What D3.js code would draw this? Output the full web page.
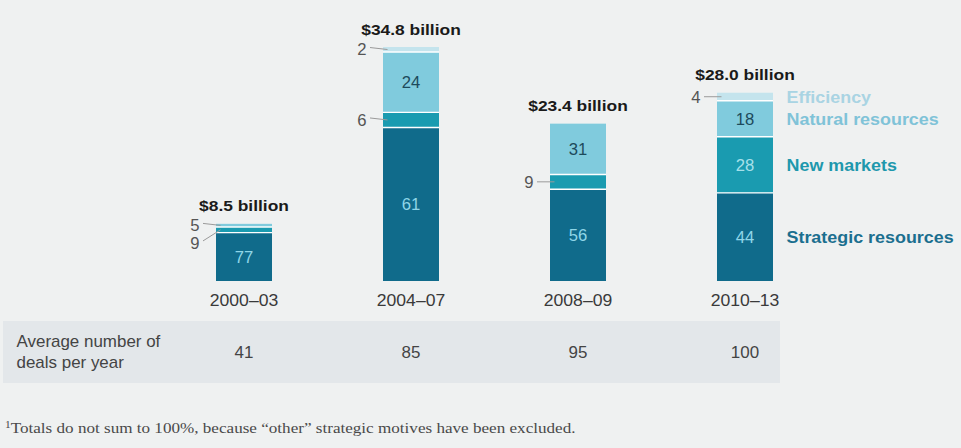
<!DOCTYPE html>
<html>
<head>
<meta charset="utf-8">
<script src="https://cdn.jsdelivr.net/npm/d3@7/dist/d3.min.js"></script>
<style>
  html, body { margin: 0; padding: 0; background: #eff1f1; }
  svg { display: block; font-family: "Liberation Sans", Arial, Helvetica, sans-serif; }
</style>
</head>
<body>
<script>
// Deal value by period, with the share of each strategic motive (%)
const periods    = ["2000–03", "2004–07", "2008–09", "2010–13"];
const totals     = [8.5, 34.8, 23.4, 28.0];          // $ billion
const strategic  = [77, 61, 56, 44];
const newMarkets = [9, 6, 9, 28];
const naturalRes = [5, 24, 31, 18];
const efficiency = [0, 2, 0, 4];
const deals      = [41, 85, 95, 100];                 // average deals per year
const motives    = ["Strategic resources", "New markets", "Natural resources", "Efficiency"];

const W = 961, H = 448;
const colors = {
  "Strategic resources": "#106b8b",
  "New markets": "#1a9bb0",
  "Natural resources": "#80cbdd",
  "Efficiency": "#c4e4ed"
};
const legendColors = {
  "Strategic resources": "#1b6f8f",
  "New markets": "#1e98ad",
  "Natural resources": "#80c3d8",
  "Efficiency": "#a9d4e3"
};
const insideText = {
  "Strategic resources": "#8fd6e8",
  "New markets": "#a6e0ea",
  "Natural resources": "#1d4a5b",
  "Efficiency": "#1d4a5b"
};

// Each bar is as tall as the period total; motive segments split it by share
const rows = periods.map((p, i) => {
  const pct = [strategic[i], newMarkets[i], naturalRes[i], efficiency[i]];
  const sum = d3.sum(pct);
  const r = { period: p, total: totals[i] };
  motives.forEach((m, k) => { r[m] = totals[i] * pct[k] / sum; r[m + "_pct"] = pct[k]; });
  return r;
});
const series = d3.stack().keys(motives)(rows);

const svg = d3.select("body").append("svg").attr("width", W).attr("height", H);
svg.append("rect").attr("width", W).attr("height", H).attr("fill", "#eff1f1");

const x = d3.scaleBand().domain(periods).range([165.9, 823.1])
  .paddingInner(0.6647).paddingOuter(0.3);
const y = d3.scaleLinear().domain([0, d3.max(totals)]).range([281, 47]);

// place text at (px,py) with a slight horizontal stretch
function stretch(sel, px, py, sx) {
  return sel.attr("x", 0).attr("y", 0)
    .attr("transform", `translate(${px},${py}) scale(${sx},1)`);
}

// Table row behind the deal counts
svg.append("rect").attr("x", 3).attr("y", 321).attr("width", 777).attr("height", 62)
  .attr("fill", "#e3e7ea");

// Stacked bars
const g = svg.append("g");
series.forEach(s => {
  g.selectAll(null).data(s.filter(d => d[1] - d[0] > 0)).join("rect")
    .attr("x", d => x(d.data.period))
    .attr("width", x.bandwidth())
    .attr("y", d => y(d[1]))
    .attr("height", d => y(d[0]) - y(d[1]))
    .attr("fill", colors[s.key]);
});
// white separators between segments
series.forEach((s, k) => {
  if (k === 0) return;
  g.selectAll(null).data(s.filter(d => d[1] - d[0] > 0)).join("line")
    .attr("x1", d => x(d.data.period)).attr("x2", d => x(d.data.period) + x.bandwidth())
    .attr("y1", d => y(d[0])).attr("y2", d => y(d[0]))
    .attr("stroke", "#ffffff").attr("stroke-width", 1.4);
});

// Segment value labels: inside when there is room, otherwise to the left with a leader
const labels = svg.append("g").attr("font-size", 16);
rows.forEach((r, i) => {
  const bx = x(r.period), cx = bx + x.bandwidth() / 2;
  const outside = [];
  series.forEach(s => {
    const d = s[i];
    const pct = r[s.key + "_pct"];
    if (!pct) return;
    const top = y(d[1]), bot = y(d[0]), mid = (top + bot) / 2;
    if (bot - top >= 18) {
      stretch(labels.append("text"), cx, mid + 5.8, 1.04)
        .attr("text-anchor", "middle").attr("fill", insideText[s.key]).text(pct);
    } else {
      outside.push({ pct, mid });
    }
  });
  // outside labels stacked downward from the top segment
  outside.sort((a, b) => a.mid - b.mid);
  let prev = -Infinity;
  outside.forEach(o => {
    const stacked = outside.length > 1;
    const ly = stacked ? Math.max(o.mid, prev + 17.5) : o.mid;
    prev = ly;
    stretch(labels.append("text"), bx - 16.5, ly + 5.8, 1.04)
      .attr("text-anchor", "end").attr("fill", "#555").text(o.pct);
    labels.append("line")
      .attr("x1", bx - 13).attr("y1", stacked ? ly - 2 : ly)
      .attr("x2", bx + 4.5).attr("y2", o.mid)
      .attr("stroke", "#9a9a9a").attr("stroke-width", 1);
  });
  // total above the bar
  stretch(svg.append("text"), cx, y(r.total) - 12.5, 1.16)
    .attr("text-anchor", "middle").attr("font-weight", "bold").attr("font-size", 15)
    .attr("fill", "#1a1a1a").text(`$${r.total.toFixed(1)} billion`);
});

// Period axis
const axis = svg.append("g").attr("transform", "translate(0,281)")
  .call(d3.axisBottom(x).tickSize(0).tickPadding(0));
axis.select(".domain").remove();
axis.selectAll("text")
  .attr("y", 25).attr("dy", 0)
  .attr("font-family", "Liberation Sans, Arial, sans-serif")
  .attr("font-size", 16).attr("fill", "#3a3a3a")
  .attr("transform", "scale(1.1,1)");

// Legend beside the last bar, aligned with its segments
const last = rows.length - 1;
const lx = x(periods[last]) + x.bandwidth() + 13.5;
series.forEach(s => {
  const d = s[last];
  const mid = (y(d[0]) + y(d[1])) / 2;
  stretch(svg.append("text"), lx, mid + 5.8, 1.12)
    .attr("font-weight", "bold").attr("font-size", 16)
    .attr("fill", legendColors[s.key]).text(s.key);
});

// Deals-per-year row
const tbl = svg.append("g").attr("font-size", 16).attr("fill", "#444");
stretch(tbl.append("text"), 16.5, 346.5, 1.06).text("Average number of");
stretch(tbl.append("text"), 16.5, 367.5, 1.06).text("deals per year");
tbl.selectAll(null).data(deals).join("text")
  .attr("x", 0).attr("y", 0)
  .attr("transform", (d, i) => `translate(${x(periods[i]) + x.bandwidth() / 2},357.5) scale(1.06,1)`)
  .attr("text-anchor", "middle").text(d => d);

// Footnote
const fn = svg.append("text").attr("x", 0).attr("y", 0)
  .attr("font-family", "Liberation Serif, 'DejaVu Serif', Georgia, serif")
  .attr("font-size", 15).attr("fill", "#4a4a4a");
fn.append("tspan").attr("font-size", 10).attr("dy", -5).text("1");
fn.append("tspan").attr("dy", 5).text("Totals do not sum to 100%, because “other” strategic motives have been excluded.");
const fnW = fn.node().getComputedTextLength();
fn.attr("transform", `translate(5,433) scale(${571 / fnW},1)`);
</script>
</body>
</html>
